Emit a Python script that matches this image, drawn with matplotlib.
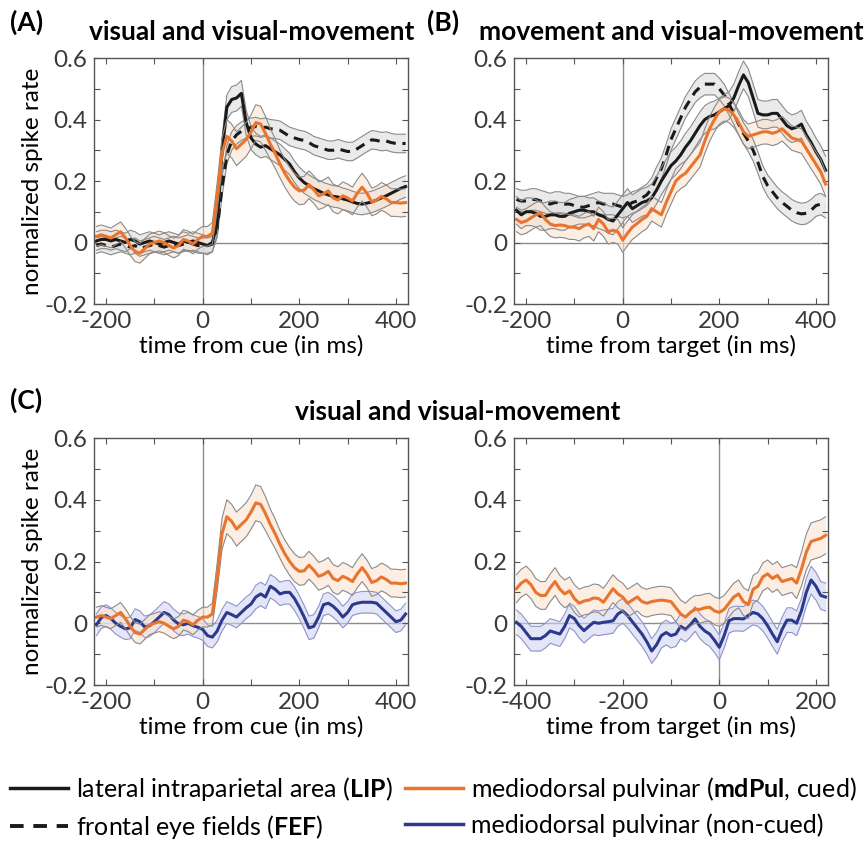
import matplotlib.pyplot as plt
import numpy as np
from matplotlib.lines import Line2D

plt.rcParams['font.family'] = ['Lato', 'DejaVu Sans']
plt.rcParams['axes.unicode_minus'] = False
plt.rcParams['mathtext.fontset'] = 'custom'
plt.rcParams['mathtext.rm'] = 'Lato'
plt.rcParams['mathtext.bf'] = 'Lato:bold'

# 10 ms bins
t_cue = np.arange(-220, 421, 10)
t_tgt = np.arange(-220, 421, 10)
t_sac = np.arange(-420, 221, 10)

# ---- cue aligned, visual / visual-movement cells ----
lip_cue = [0.005, 0.010, 0.010, 0.005, 0.010, 0.005, 0.000, 0.010, 0.005, -0.005,
           0.000, 0.005, 0.000, -0.005, 0.000, 0.005, 0.000, -0.005, 0.005, 0.000,
           0.005, 0.000, -0.005, -0.010, 0.000, 0.060, 0.300, 0.440, 0.465, 0.470,
           0.485, 0.390, 0.340, 0.320, 0.310, 0.315, 0.305, 0.295, 0.285, 0.270,
           0.255, 0.230, 0.210, 0.195, 0.185, 0.175, 0.168, 0.160, 0.155, 0.150,
           0.148, 0.142, 0.138, 0.132, 0.127, 0.125, 0.128, 0.132, 0.138, 0.145,
           0.152, 0.160, 0.168, 0.176, 0.182]
lip_cue_sem = [0.030, 0.030, 0.030, 0.030, 0.030, 0.030, 0.030, 0.030, 0.030, 0.030,
               0.030, 0.030, 0.030, 0.030, 0.030, 0.030, 0.030, 0.030, 0.030, 0.030,
               0.030, 0.030, 0.030, 0.030, 0.030, 0.035, 0.040, 0.040, 0.042, 0.042,
               0.042, 0.040, 0.038, 0.035, 0.035, 0.035, 0.035, 0.035, 0.035, 0.035,
               0.035, 0.035, 0.035, 0.035, 0.035, 0.035, 0.035, 0.035, 0.035, 0.035,
               0.035, 0.035, 0.035, 0.035, 0.035, 0.035, 0.035, 0.035, 0.035, 0.035,
               0.035, 0.035, 0.035, 0.035, 0.035]
fef_cue = [-0.010, -0.005, -0.010, -0.015, -0.010, -0.005, -0.010, -0.015, -0.010, -0.020,
           -0.015, -0.010, -0.005, -0.010, -0.015, -0.010, -0.005, -0.010, -0.005, 0.000,
           -0.005, -0.010, -0.010, -0.010, -0.005, 0.045, 0.180, 0.285, 0.330, 0.350,
           0.362, 0.370, 0.375, 0.377, 0.372, 0.375, 0.370, 0.368, 0.365, 0.355,
           0.345, 0.340, 0.335, 0.332, 0.325, 0.315, 0.310, 0.305, 0.300, 0.300,
           0.305, 0.300, 0.296, 0.296, 0.305, 0.315, 0.325, 0.334, 0.332, 0.328,
           0.330, 0.325, 0.322, 0.322, 0.322]
fef_cue_sem = [0.025, 0.025, 0.025, 0.025, 0.025, 0.025, 0.025, 0.025, 0.025, 0.025,
               0.025, 0.025, 0.025, 0.025, 0.025, 0.025, 0.025, 0.025, 0.025, 0.025,
               0.025, 0.025, 0.025, 0.025, 0.025, 0.028, 0.030, 0.030, 0.030, 0.030,
               0.030, 0.030, 0.030, 0.030, 0.030, 0.030, 0.030, 0.030, 0.030, 0.030,
               0.030, 0.030, 0.030, 0.030, 0.030, 0.030, 0.030, 0.030, 0.030, 0.030,
               0.030, 0.030, 0.030, 0.030, 0.030, 0.030, 0.030, 0.030, 0.030, 0.030,
               0.030, 0.030, 0.030, 0.030, 0.030]
pul_cue = [0.020, 0.025, 0.020, 0.015, 0.025, 0.035, 0.015, -0.010, -0.030, -0.035,
           -0.020, -0.005, 0.000, 0.005, 0.000, -0.010, -0.018, -0.010, 0.010, 0.005,
           -0.005, 0.010, 0.020, 0.020, 0.030, 0.150, 0.290, 0.345, 0.330, 0.305,
           0.320, 0.335, 0.360, 0.390, 0.385, 0.355, 0.320, 0.290, 0.255, 0.225,
           0.200, 0.180, 0.168, 0.170, 0.188, 0.172, 0.152, 0.158, 0.168, 0.145,
           0.138, 0.152, 0.145, 0.135, 0.160, 0.180, 0.160, 0.132, 0.138, 0.150,
           0.142, 0.130, 0.130, 0.128, 0.130]
pul_cue_sem = [0.032, 0.032, 0.032, 0.032, 0.032, 0.032, 0.032, 0.032, 0.032, 0.032,
               0.032, 0.032, 0.032, 0.032, 0.032, 0.032, 0.032, 0.032, 0.032, 0.032,
               0.032, 0.032, 0.032, 0.032, 0.035, 0.045, 0.050, 0.055, 0.055, 0.055,
               0.055, 0.055, 0.055, 0.058, 0.058, 0.055, 0.050, 0.048, 0.045, 0.045,
               0.045, 0.045, 0.045, 0.045, 0.045, 0.045, 0.045, 0.045, 0.045, 0.045,
               0.045, 0.045, 0.045, 0.045, 0.045, 0.045, 0.045, 0.045, 0.045, 0.045,
               0.045, 0.045, 0.045, 0.045, 0.045]
pul_nc_cue = [-0.005, 0.018, 0.025, 0.015, 0.000, -0.010, -0.018, -0.015, 0.012, 0.005,
              -0.012, -0.008, 0.005, 0.020, 0.035, 0.028, 0.010, -0.002, -0.005, 0.000,
              -0.008, -0.013, -0.020, -0.040, -0.045, -0.025, 0.010, 0.035, 0.028, 0.020,
              0.035, 0.050, 0.062, 0.085, 0.095, 0.085, 0.120, 0.110, 0.095, 0.100,
              0.100, 0.080, 0.052, 0.020, -0.015, -0.010, 0.020, 0.060, 0.065, 0.055,
              0.040, 0.020, 0.035, 0.060, 0.065, 0.068, 0.068, 0.068, 0.065, 0.050,
              0.035, 0.020, 0.005, 0.010, 0.030]
pul_nc_cue_sem = [0.035, 0.035, 0.035, 0.035, 0.035, 0.035, 0.035, 0.035, 0.035, 0.035,
                  0.035, 0.035, 0.035, 0.035, 0.035, 0.035, 0.035, 0.035, 0.035, 0.035,
                  0.035, 0.035, 0.035, 0.035, 0.035, 0.035, 0.035, 0.035, 0.035, 0.035,
                  0.035, 0.035, 0.035, 0.038, 0.038, 0.038, 0.038, 0.038, 0.038, 0.038,
                  0.038, 0.038, 0.038, 0.038, 0.038, 0.038, 0.035, 0.035, 0.035, 0.035,
                  0.035, 0.035, 0.035, 0.035, 0.035, 0.035, 0.035, 0.035, 0.035, 0.035,
                  0.035, 0.035, 0.035, 0.035, 0.035]

# ---- target aligned, movement / visual-movement cells ----
lip_tgt = [0.105, 0.090, 0.100, 0.100, 0.095, 0.085, 0.085, 0.090, 0.090, 0.085,
           0.085, 0.095, 0.100, 0.105, 0.105, 0.100, 0.100, 0.090, 0.085, 0.075,
           0.070, 0.090, 0.110, 0.130, 0.110, 0.120, 0.130, 0.135, 0.145, 0.170,
           0.200, 0.225, 0.250, 0.265, 0.285, 0.310, 0.330, 0.355, 0.380, 0.400,
           0.410, 0.415, 0.425, 0.435, 0.445, 0.470, 0.510, 0.545, 0.520, 0.470,
           0.420, 0.415, 0.415, 0.420, 0.420, 0.400, 0.380, 0.370, 0.375, 0.385,
           0.350, 0.325, 0.295, 0.270, 0.235]
lip_tgt_sem = [0.045, 0.045, 0.045, 0.045, 0.045, 0.045, 0.045, 0.045, 0.045, 0.045,
               0.045, 0.045, 0.045, 0.045, 0.045, 0.045, 0.045, 0.045, 0.045, 0.045,
               0.045, 0.045, 0.045, 0.045, 0.045, 0.045, 0.045, 0.045, 0.045, 0.045,
               0.045, 0.045, 0.045, 0.045, 0.045, 0.045, 0.045, 0.045, 0.045, 0.045,
               0.045, 0.045, 0.045, 0.045, 0.045, 0.045, 0.045, 0.045, 0.045, 0.045,
               0.045, 0.045, 0.045, 0.045, 0.045, 0.045, 0.045, 0.045, 0.045, 0.045,
               0.045, 0.045, 0.045, 0.045, 0.045]
fef_tgt = [0.140, 0.135, 0.135, 0.140, 0.140, 0.135, 0.130, 0.125, 0.130, 0.130,
           0.125, 0.125, 0.120, 0.115, 0.115, 0.120, 0.125, 0.130, 0.125, 0.125,
           0.125, 0.120, 0.115, 0.120, 0.130, 0.135, 0.145, 0.155, 0.175, 0.210,
           0.240, 0.285, 0.335, 0.370, 0.405, 0.440, 0.465, 0.490, 0.505, 0.515,
           0.515, 0.515, 0.500, 0.480, 0.450, 0.420, 0.385, 0.355, 0.330, 0.300,
           0.260, 0.215, 0.185, 0.165, 0.145, 0.130, 0.118, 0.105, 0.097, 0.093,
           0.095, 0.105, 0.120, 0.125, 0.115]
fef_tgt_sem = [0.035, 0.035, 0.035, 0.035, 0.035, 0.035, 0.035, 0.035, 0.035, 0.035,
               0.035, 0.035, 0.035, 0.035, 0.035, 0.035, 0.035, 0.035, 0.035, 0.035,
               0.035, 0.035, 0.035, 0.035, 0.035, 0.035, 0.035, 0.035, 0.035, 0.035,
               0.035, 0.035, 0.035, 0.035, 0.035, 0.035, 0.035, 0.035, 0.035, 0.035,
               0.035, 0.035, 0.035, 0.035, 0.035, 0.035, 0.035, 0.035, 0.035, 0.035,
               0.035, 0.035, 0.035, 0.035, 0.035, 0.035, 0.035, 0.035, 0.035, 0.035,
               0.035, 0.035, 0.035, 0.035, 0.035]
pul_tgt = [0.075, 0.065, 0.070, 0.080, 0.090, 0.095, 0.075, 0.060, 0.055, 0.057,
           0.055, 0.050, 0.050, 0.045, 0.055, 0.060, 0.045, 0.075, 0.060, 0.035,
           0.040, 0.035, 0.008, 0.030, 0.050, 0.062, 0.075, 0.085, 0.110, 0.100,
           0.090, 0.130, 0.165, 0.200, 0.215, 0.225, 0.245, 0.265, 0.285, 0.330,
           0.370, 0.400, 0.425, 0.435, 0.430, 0.415, 0.390, 0.360, 0.345, 0.350,
           0.355, 0.360, 0.360, 0.355, 0.360, 0.370, 0.355, 0.340, 0.335, 0.330,
           0.305, 0.280, 0.255, 0.230, 0.190]
pul_tgt_sem = [0.040, 0.040, 0.040, 0.040, 0.040, 0.040, 0.040, 0.040, 0.040, 0.040,
               0.040, 0.040, 0.040, 0.040, 0.040, 0.040, 0.040, 0.040, 0.040, 0.040,
               0.040, 0.040, 0.040, 0.040, 0.040, 0.040, 0.040, 0.040, 0.040, 0.040,
               0.040, 0.040, 0.040, 0.040, 0.040, 0.040, 0.040, 0.040, 0.040, 0.040,
               0.040, 0.040, 0.040, 0.040, 0.040, 0.040, 0.040, 0.040, 0.040, 0.040,
               0.040, 0.040, 0.040, 0.040, 0.040, 0.040, 0.040, 0.040, 0.040, 0.040,
               0.040, 0.040, 0.040, 0.040, 0.040]

# ---- target aligned, pulvinar visual / visual-movement cells ----
pul_sac = [0.112, 0.130, 0.140, 0.125, 0.100, 0.090, 0.090, 0.115, 0.135, 0.110,
           0.095, 0.105, 0.080, 0.065, 0.072, 0.075, 0.082, 0.080, 0.068, 0.090,
           0.112, 0.095, 0.085, 0.065, 0.075, 0.085, 0.070, 0.065, 0.070, 0.073,
           0.075, 0.073, 0.070, 0.050, 0.030, 0.020, 0.035, 0.045, 0.045, 0.050,
           0.052, 0.040, 0.035, 0.045, 0.065, 0.085, 0.095, 0.070, 0.060, 0.110,
           0.120, 0.150, 0.160, 0.145, 0.155, 0.135, 0.140, 0.145, 0.130, 0.175,
           0.230, 0.265, 0.270, 0.275, 0.285]
pul_sac_sem = [0.045, 0.045, 0.045, 0.045, 0.045, 0.045, 0.045, 0.045, 0.045, 0.045,
               0.045, 0.045, 0.045, 0.045, 0.045, 0.045, 0.045, 0.045, 0.045, 0.045,
               0.045, 0.045, 0.045, 0.045, 0.045, 0.045, 0.045, 0.045, 0.045, 0.045,
               0.045, 0.045, 0.045, 0.045, 0.045, 0.045, 0.045, 0.045, 0.045, 0.045,
               0.045, 0.045, 0.045, 0.045, 0.045, 0.045, 0.045, 0.045, 0.045, 0.045,
               0.045, 0.045, 0.045, 0.045, 0.045, 0.045, 0.045, 0.045, 0.050, 0.055,
               0.058, 0.060, 0.060, 0.060, 0.060]
pul_nc_sac = [0.003, -0.010, -0.030, -0.050, -0.050, -0.050, -0.040, -0.025, -0.030, -0.035,
              -0.010, 0.025, 0.015, -0.008, -0.024, -0.010, 0.003, 0.000, 0.003, 0.005,
              0.008, 0.030, 0.040, 0.025, 0.005, -0.015, -0.035, -0.060, -0.090, -0.070,
              -0.040, -0.030, -0.040, -0.035, -0.010, -0.020, -0.005, 0.014, -0.010, -0.025,
              -0.035, -0.055, -0.078, -0.040, 0.008, 0.015, 0.015, 0.014, 0.025, 0.035,
              0.030, 0.015, -0.008, -0.035, -0.060, -0.020, 0.010, 0.010, 0.000, 0.040,
              0.100, 0.140, 0.120, 0.090, 0.085]
pul_nc_sac_sem = [0.040, 0.040, 0.040, 0.040, 0.040, 0.040, 0.040, 0.040, 0.040, 0.040,
                  0.040, 0.040, 0.040, 0.040, 0.040, 0.040, 0.040, 0.040, 0.040, 0.040,
                  0.040, 0.040, 0.040, 0.040, 0.040, 0.040, 0.040, 0.040, 0.040, 0.040,
                  0.040, 0.040, 0.040, 0.040, 0.040, 0.040, 0.040, 0.040, 0.040, 0.040,
                  0.040, 0.040, 0.040, 0.040, 0.040, 0.040, 0.040, 0.040, 0.040, 0.040,
                  0.040, 0.040, 0.040, 0.040, 0.040, 0.040, 0.040, 0.040, 0.040, 0.040,
                  0.045, 0.045, 0.045, 0.045, 0.045]

BLACK = '#1a1a1a'
ORANGE = '#e8752f'
BLUE = '#2b3a8f'
GRAY_EDGE = '#8a8a8a'
GRAY_FILL = '#dcdcdc'
ORANGE_FILL = '#fbe3d0'
BLUE_FILL = '#d2d5f0'
FS = 17.5        # ticks and axis labels
FS_TITLE = 19
FS_LEG = 18


def trace(ax, t, mean, sem, color, fill, edge, ls='-'):
    m = np.asarray(mean)
    s = np.asarray(sem)
    ax.fill_between(t, m - s, m + s, color=fill, lw=0, alpha=0.6)
    ax.plot(t, m - s, color=edge, lw=0.8)
    ax.plot(t, m + s, color=edge, lw=0.8)
    if ls == '--':
        ax.plot(t, m, color=color, lw=2.2, dashes=(3.2, 2.2))
    else:
        ax.plot(t, m, color=color, lw=2.2)


def setup(ax, xlim, xmajor, xminor):
    ax.set_xlim(*xlim)
    ax.set_ylim(-0.2, 0.6)
    ax.set_xticks(xmajor)
    ax.set_xticks(xminor, minor=True)
    ax.set_xticklabels([str(v) for v in xmajor])
    ax.set_yticks([-0.2, 0, 0.2, 0.4, 0.6])
    ax.set_yticks([-0.1, 0.1, 0.3, 0.5], minor=True)
    ax.set_yticklabels(['-0.2', '0', '0.2', '0.4', '0.6'])
    ax.tick_params(which='both', direction='in', top=True, right=True,
                   length=4, width=0.8, color='#555555', labelsize=FS,
                   labelcolor='#3a3a3a', pad=5)
    for sp in ax.spines.values():
        sp.set_color('#555555')
        sp.set_linewidth(1.0)
    ax.axhline(0, color='#8c8c8c', lw=1.0, zorder=0)
    ax.axvline(0, color='#8c8c8c', lw=1.0, zorder=0)


fig = plt.figure(figsize=(8.64, 8.46), dpi=100)
W, H = 864, 846


def add_ax(left, top, right, bottom):
    return fig.add_axes([left / W, 1 - bottom / H, (right - left) / W, (bottom - top) / H])


axA = add_ax(94, 58, 408, 304)
axB = add_ax(514, 58, 828, 304)
axC1 = add_ax(94, 438, 408, 685)
axC2 = add_ax(514, 438, 828, 685)

# (A) cue aligned
setup(axA, (-225, 425), [-200, 0, 200, 400], [-100, 100, 300])
trace(axA, t_cue, fef_cue, fef_cue_sem, BLACK, GRAY_FILL, GRAY_EDGE, '--')
trace(axA, t_cue, lip_cue, lip_cue_sem, BLACK, GRAY_FILL, GRAY_EDGE)
trace(axA, t_cue, pul_cue, pul_cue_sem, ORANGE, ORANGE_FILL, GRAY_EDGE)
axA.set_xlabel('time from cue (in ms)', fontsize=FS, labelpad=2)
axA.set_ylabel('normalized spike rate', fontsize=FS, labelpad=1)

# (B) target aligned
setup(axB, (-225, 425), [-200, 0, 200, 400], [-100, 100, 300])
trace(axB, t_tgt, fef_tgt, fef_tgt_sem, BLACK, GRAY_FILL, GRAY_EDGE, '--')
trace(axB, t_tgt, lip_tgt, lip_tgt_sem, BLACK, GRAY_FILL, GRAY_EDGE)
trace(axB, t_tgt, pul_tgt, pul_tgt_sem, ORANGE, ORANGE_FILL, GRAY_EDGE)
axB.set_xlabel('time from target (in ms)', fontsize=FS, labelpad=2)

# (C) pulvinar, cued vs non-cued
setup(axC1, (-225, 425), [-200, 0, 200, 400], [-100, 100, 300])
trace(axC1, t_cue, pul_nc_cue, pul_nc_cue_sem, BLUE, BLUE_FILL, '#8e93cc')
trace(axC1, t_cue, pul_cue, pul_cue_sem, ORANGE, ORANGE_FILL, GRAY_EDGE)
axC1.set_xlabel('time from cue (in ms)', fontsize=FS, labelpad=2)
axC1.set_ylabel('normalized spike rate', fontsize=FS, labelpad=1)

setup(axC2, (-425, 225), [-400, -200, 0, 200], [-300, -100, 100])
trace(axC2, t_sac, pul_nc_sac, pul_nc_sac_sem, BLUE, BLUE_FILL, '#8e93cc')
trace(axC2, t_sac, pul_sac, pul_sac_sem, ORANGE, ORANGE_FILL, GRAY_EDGE)
axC2.set_xlabel('time from target (in ms)', fontsize=FS, labelpad=2)

# panel letters and titles
fig.text(10 / W, 1 - 31 / H, '(A)', fontsize=FS_TITLE, fontweight='bold', va='baseline')
fig.text(427 / W, 1 - 31 / H, '(B)', fontsize=FS_TITLE, fontweight='bold', va='baseline')
fig.text(10 / W, 1 - 409 / H, '(C)', fontsize=FS_TITLE, fontweight='bold', va='baseline')
fig.text(252 / W, 1 - 40 / H, 'visual and visual-movement', fontsize=FS_TITLE,
         fontweight='bold', ha='center', va='baseline')
fig.text(671 / W, 1 - 40 / H, 'movement and visual-movement', fontsize=FS_TITLE,
         fontweight='bold', ha='center', va='baseline')
fig.text(458 / W, 1 - 420 / H, 'visual and visual-movement', fontsize=FS_TITLE,
         fontweight='bold', ha='center', va='baseline')

# legend, two columns
h_lip = Line2D([], [], color=BLACK, lw=2.5)
h_fef = Line2D([], [], color=BLACK, lw=2.8, dashes=(3.5, 2.5))
h_cued = Line2D([], [], color=ORANGE, lw=2.5)
h_nc = Line2D([], [], color=BLUE, lw=2.5)
leg_kw = dict(frameon=False, fontsize=FS_LEG, handlelength=2.3, handletextpad=0.35,
              labelspacing=0.4, borderpad=0, borderaxespad=0, loc='upper left')
fig.legend([h_lip, h_fef],
           [r'lateral intraparietal area ($\mathbf{LIP}$)', r'frontal eye fields ($\mathbf{FEF}$)'],
           bbox_to_anchor=(10 / W, 1 - 775 / H), **leg_kw)
fig.legend([h_cued, h_nc],
           [r'mediodorsal pulvinar ($\mathbf{mdPul}$, cued)', 'mediodorsal pulvinar (non-cued)'],
           bbox_to_anchor=(405 / W, 1 - 775 / H), **leg_kw)

fig.savefig('out.png', dpi=100, facecolor='white')
